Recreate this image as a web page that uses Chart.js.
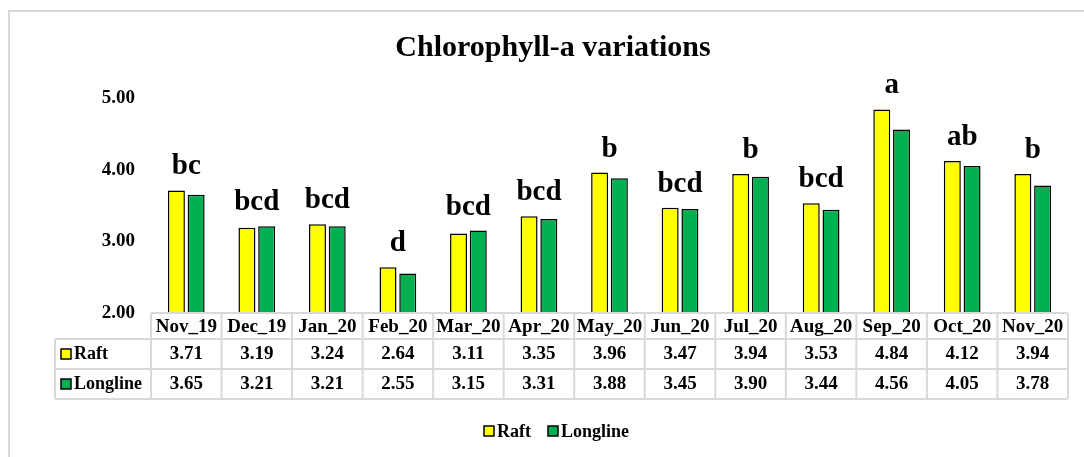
<!DOCTYPE html>
<html>
<head>
<meta charset="utf-8">
<title>Chlorophyll-a variations</title>
<script src="https://cdn.jsdelivr.net/npm/chart.js@4/dist/chart.umd.min.js"></script>
<style>
    body { margin: 0; background: #fff; }
    #wrap { width: 1084px; height: 457px; }
</style>
</head>
<body>
<div id="wrap"><canvas id="myChart" width="1084" height="457"></canvas></div>
<script>
var months = ['Nov_19', 'Dec_19', 'Jan_20', 'Feb_20', 'Mar_20', 'Apr_20', 'May_20', 'Jun_20', 'Jul_20', 'Aug_20', 'Sep_20', 'Oct_20', 'Nov_20'];
var raft = [3.71, 3.19, 3.24, 2.64, 3.11, 3.35, 3.96, 3.47, 3.94, 3.53, 4.84, 4.12, 3.94];
var longline = [3.65, 3.21, 3.21, 2.55, 3.15, 3.31, 3.88, 3.45, 3.90, 3.44, 4.56, 4.05, 3.78];
var letters = ['bc', 'bcd', 'bcd', 'd', 'bcd', 'bcd', 'b', 'bcd', 'b', 'bcd', 'a', 'ab', 'b'];
var seriesNames = ['Raft', 'Longline'];
var seriesColors = ['#FFFF00', '#00B050'];

var FONT = '"Liberation Serif", "Times New Roman", serif';
var GRID = '#d9d9d9';

// draws title, letters, data table, legend and frame
var extras = {
    id: 'extras',
    afterDraw: function(chart) {
        var ctx = chart.ctx;
        var area = chart.chartArea;
        var x = chart.scales.x;
        var y = chart.scales.y;
        var step = (area.right - area.left) / months.length;

        ctx.save();

        // frame
        ctx.strokeStyle = GRID;
        ctx.lineWidth = 2;
        ctx.beginPath();
        ctx.moveTo(9, 457);
        ctx.lineTo(9, 11);
        ctx.lineTo(1084, 11);
        ctx.stroke();

        // title
        ctx.fillStyle = '#000';
        ctx.textAlign = 'center';
        ctx.textBaseline = 'middle';
        ctx.font = 'bold 30px ' + FONT;
        ctx.fillText('Chlorophyll-a variations', 553, 48);

        // significance letters
        ctx.font = 'bold 29px ' + FONT;
        ctx.textBaseline = 'alphabetic';
        months.forEach(function(m, i) {
            var top = y.getPixelForValue(Math.max(raft[i], longline[i]));
            ctx.fillText(letters[i], x.getPixelForValue(i), top - 16);
        });

        // data table
        var rows = [area.bottom, area.bottom + 26, area.bottom + 56, area.bottom + 86];
        var labelLeft = 55;
        ctx.strokeStyle = GRID;
        ctx.lineWidth = 2;
        ctx.beginPath();
        ctx.moveTo(area.left, rows[0]);
        ctx.lineTo(area.right, rows[0]);
        for (var r = 1; r < rows.length; r++) {
            ctx.moveTo(labelLeft, rows[r]);
            ctx.lineTo(area.right, rows[r]);
        }
        ctx.moveTo(labelLeft, rows[1]);
        ctx.lineTo(labelLeft, rows[3]);
        for (var c = 0; c <= months.length; c++) {
            var cx = area.left + c * step;
            ctx.moveTo(cx, rows[0]);
            ctx.lineTo(cx, rows[3]);
        }
        ctx.stroke();

        ctx.fillStyle = '#000';
        ctx.font = 'bold 19px ' + FONT;
        ctx.textAlign = 'center';
        ctx.textBaseline = 'middle';
        months.forEach(function(m, i) {
            var cx = x.getPixelForValue(i);
            ctx.fillText(m, cx, (rows[0] + rows[1]) / 2 + 1);
            ctx.fillText(raft[i].toFixed(2), cx, (rows[1] + rows[2]) / 2);
            ctx.fillText(longline[i].toFixed(2), cx, (rows[2] + rows[3]) / 2);
        });

        // row labels with keys
        ctx.textAlign = 'left';
        ctx.font = 'bold 18px ' + FONT;
        seriesNames.forEach(function(name, s) {
            var cy = (rows[s + 1] + rows[s + 2]) / 2;
            drawKey(ctx, 61, cy - 5, seriesColors[s]);
            ctx.fillStyle = '#000';
            ctx.fillText(name, 74, cy);
        });

        // legend
        var lx = [484, 548];
        seriesNames.forEach(function(name, s) {
            drawKey(ctx, lx[s], 426, seriesColors[s]);
            ctx.fillStyle = '#000';
            ctx.fillText(name, lx[s] + 13, 432);
        });

        ctx.restore();
    }
};

function drawKey(ctx, kx, ky, color) {
    ctx.fillStyle = color;
    ctx.fillRect(kx, ky, 10, 10);
    ctx.strokeStyle = '#000';
    ctx.lineWidth = 1.5;
    ctx.strokeRect(kx, ky, 10, 10);
}

var chart = new Chart(document.getElementById('myChart'), {
    type: 'bar',
    data: {
        labels: months,
        datasets: [{
            label: seriesNames[0],
            data: raft,
            backgroundColor: seriesColors[0],
            borderColor: '#000',
            borderWidth: 1.5
        }, {
            label: seriesNames[1],
            data: longline,
            backgroundColor: seriesColors[1],
            borderColor: '#000',
            borderWidth: 1.5
        }]
    },
    options: {
        responsive: false,
        animation: false,
        categoryPercentage: 0.56,
        barPercentage: 0.86,
        layout: {
            padding: { left: 0, right: 16, top: 98, bottom: 144 }
        },
        plugins: {
            legend: { display: false },
            title: { display: false },
            tooltip: { enabled: false }
        },
        scales: {
            x: {
                display: false
            },
            y: {
                min: 2,
                max: 5,
                grid: { display: false, drawTicks: false },
                border: { display: false },
                ticks: {
                    stepSize: 1,
                    padding: 16,
                    color: '#000',
                    font: { family: FONT, size: 19, weight: 'bold' },
                    callback: function(v) { return v.toFixed(2); }
                },
                afterFit: function(scale) { scale.width = 151; }
            }
        }
    },
    plugins: [extras]
});
</script>
</body>
</html>
